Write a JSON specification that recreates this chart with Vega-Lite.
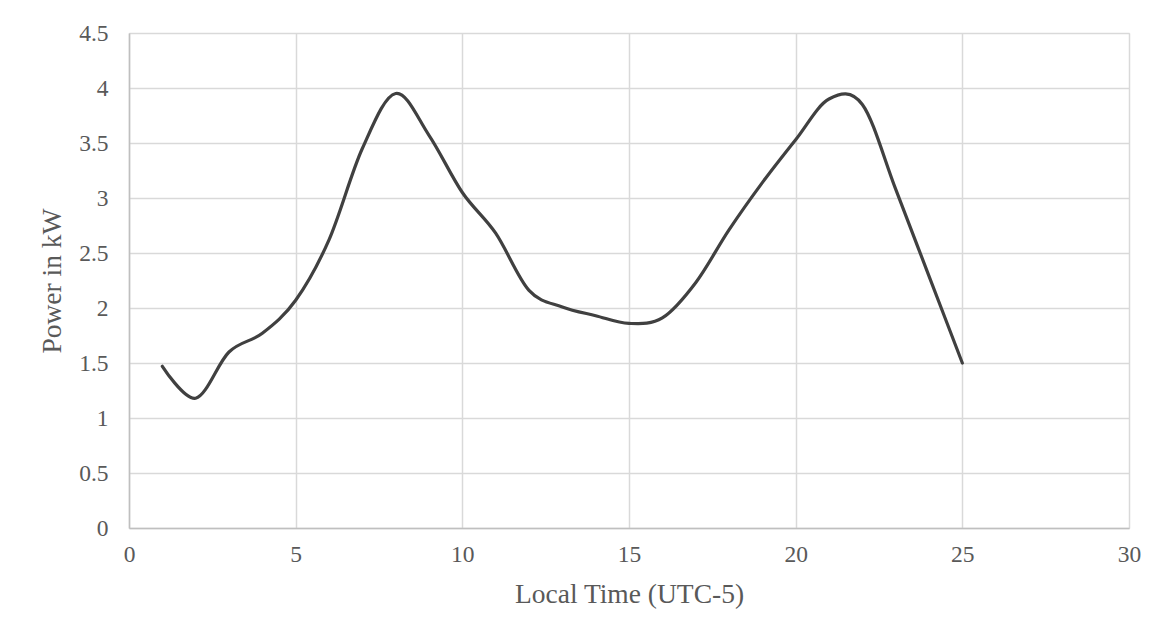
{
  "$schema": "https://vega.github.io/schema/vega-lite/v6.json",
  "autosize": "none",
  "padding": {"left": 129, "top": 33, "right": 35, "bottom": 111},
  "width": 1000,
  "height": 495,
  "background": "white",
  "data": {
    "values": [
      {"t": 1, "p": 1.47},
      {"t": 2, "p": 1.18},
      {"t": 3, "p": 1.6},
      {"t": 4, "p": 1.77},
      {"t": 5, "p": 2.07},
      {"t": 6, "p": 2.62},
      {"t": 7, "p": 3.45},
      {"t": 8, "p": 3.95},
      {"t": 9, "p": 3.57},
      {"t": 10, "p": 3.05},
      {"t": 11, "p": 2.68},
      {"t": 12, "p": 2.16},
      {"t": 13, "p": 2.01},
      {"t": 14, "p": 1.93},
      {"t": 15, "p": 1.86},
      {"t": 16, "p": 1.91},
      {"t": 17, "p": 2.23},
      {"t": 18, "p": 2.71},
      {"t": 19, "p": 3.14},
      {"t": 20, "p": 3.53},
      {"t": 21, "p": 3.9},
      {"t": 22, "p": 3.85},
      {"t": 23, "p": 3.08},
      {"t": 24, "p": 2.29},
      {"t": 25, "p": 1.5}
    ]
  },
  "mark": {"type": "line", "interpolate": "cardinal", "color": "#404040", "strokeWidth": 3.2, "strokeCap": "round"},
  "encoding": {
    "x": {
      "field": "t",
      "type": "quantitative",
      "scale": {"domain": [0, 30], "nice": false, "zero": false},
      "axis": {
        "title": "Local Time (UTC-5)",
        "values": [0, 5, 10, 15, 20, 25, 30],
        "ticks": false,
        "labelPadding": 14,
        "titlePadding": 15
      }
    },
    "y": {
      "field": "p",
      "type": "quantitative",
      "scale": {"domain": [0, 4.5], "nice": false},
      "axis": {
        "title": "Power in kW",
        "format": "~g",
        "values": [0, 0.5, 1, 1.5, 2, 2.5, 3, 3.5, 4, 4.5],
        "ticks": false,
        "labelPadding": 21,
        "titlePadding": 12
      }
    }
  },
  "config": {
    "view": {"stroke": "#d9d9d9", "strokeWidth": 1},
    "axis": {
      "labelFont": "Liberation Serif",
      "titleFont": "Liberation Serif",
      "labelFontSize": 23.5,
      "titleFontSize": 27.5,
      "labelColor": "#595959",
      "titleColor": "#595959",
      "titleFontWeight": "normal",
      "gridColor": "#d9d9d9",
      "gridWidth": 1.5,
      "domainColor": "#bfbfbf",
      "domainWidth": 1.5,
      "labelFlush": false,
      "labelOverlap": false
    }
  }
}
